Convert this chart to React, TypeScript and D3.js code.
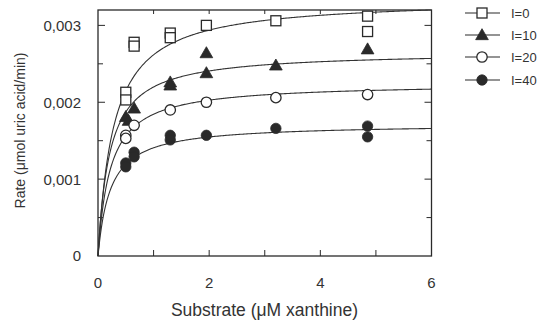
import React from "react";
import * as d3 from "d3";

const seriesNames = ["I=0", "I=10", "I=20", "I=40"];
const markerTypes = ["square", "triangle", "circleOpen", "circleFilled"];

const xI0 = [0.5, 0.5, 0.65, 0.65, 1.3, 1.3, 1.95, 3.2, 4.85, 4.85];
const yI0 = [0.00213, 0.00203, 0.00278, 0.00273, 0.0029, 0.00284, 0.003, 0.00306, 0.00312, 0.00292];
const xI10 = [0.5, 0.55, 0.65, 1.3, 1.3, 1.95, 1.95, 3.2, 4.85];
const yI10 = [0.00181, 0.00176, 0.00192, 0.00226, 0.00222, 0.00264, 0.00238, 0.00248, 0.00269];
const xI20 = [0.5, 0.5, 0.65, 1.3, 1.95, 3.2, 4.85];
const yI20 = [0.00157, 0.00153, 0.0017, 0.0019, 0.002, 0.00206, 0.0021];
const xI40 = [0.5, 0.5, 0.65, 0.65, 1.3, 1.3, 1.95, 3.2, 4.85, 4.85];
const yI40 = [0.00121, 0.00116, 0.00135, 0.00129, 0.00157, 0.00151, 0.00157, 0.00166, 0.00169, 0.00155];

// Michaelis-Menten fit parameters (Vmax, Km) for each curve
const vmax = [0.00335, 0.00266, 0.00225, 0.00172];
const km = [0.28, 0.21, 0.22, 0.222];

const xTicks = [0, 2, 4, 6];
const yTicks = [0, 0.001, 0.002, 0.003];
const yTickLabels = ["0", "0,001", "0,002", "0,003"];

const xs = [xI0, xI10, xI20, xI40];
const ys = [yI0, yI10, yI20, yI40];

const W = 542, H = 324;
const x = d3.scaleLinear().domain([0, 6]).range([98, 431.5]);
const y = d3.scaleLinear().domain([0, 0.0032]).range([256, 10]);
const ink = "#2a2a2a";
const font = "'Liberation Sans', Arial, sans-serif";

function Marker({ type, cx, cy }: { type: string; cx: number; cy: number }) {
  if (type === "square")
    return <rect x={cx - 5} y={cy - 5} width={10} height={10} fill="#fff" stroke={ink} strokeWidth={1.3} />;
  if (type === "triangle") {
    const p = d3.symbol(d3.symbolTriangle, 70)();
    return <path d={p || ""} transform={`translate(${cx},${cy + 1})`} fill={ink} stroke={ink} strokeWidth={0.8} />;
  }
  if (type === "circleOpen")
    return <circle cx={cx} cy={cy} r={5.2} fill="#fff" stroke={ink} strokeWidth={1.3} />;
  return <circle cx={cx} cy={cy} r={5.2} fill={ink} stroke={ink} strokeWidth={0.8} />;
}

export default function App() {
  const sample = d3.range(0, 6.0001, 0.02);
  const curves = vmax.map((V, i) => {
    const line = d3
      .line<number>()
      .x((s) => x(s))
      .y((s) => y((V * s) / (km[i] + s)))
      .curve(d3.curveLinear);
    return line(sample) || "";
  });
  const minorY = d3.range(0.0005, 0.0032, 0.0005);
  const minorX = [1, 2, 3, 4, 5];
  const legendY = [13, 35, 57, 80];

  return (
    <svg width={W} height={H} style={{ position: "absolute", left: 0, top: 0, background: "#fff" }}>
      <rect x={0} y={0} width={W} height={H} fill="#fff" />
      {/* frame */}
      <rect x={x(0)} y={y(0.0032)} width={x(6) - x(0)} height={y(0) - y(0.0032)} fill="none" stroke={ink} strokeWidth={1.3} />
      {/* ticks */}
      {minorY.map((t, i) => {
        const major = Math.abs((t * 1000) % 1) < 1e-6 || Math.abs((t * 1000) % 1 - 1) < 1e-6;
        const len = major ? 7 : 5;
        return (
          <g key={"yt" + i}>
            <line x1={x(0)} x2={x(0) + len} y1={y(t)} y2={y(t)} stroke={ink} strokeWidth={1} />
            <line x1={x(6)} x2={x(6) - len} y1={y(t)} y2={y(t)} stroke={ink} strokeWidth={1} />
          </g>
        );
      })}
      {minorX.map((t, i) => (
        <g key={"xt" + i}>
          <line x1={x(t)} x2={x(t)} y1={y(0)} y2={y(0) - 6} stroke={ink} strokeWidth={1} />
          <line x1={x(t)} x2={x(t)} y1={y(0.0032)} y2={y(0.0032) + 4} stroke={ink} strokeWidth={1} />
        </g>
      ))}
      {/* tick labels */}
      {yTicks.map((t, i) => (
        <text key={"yl" + i} x={81} y={y(t)} dy="0.36em" textAnchor="end" fontFamily={font} fontSize={15} fill="#333">
          {yTickLabels[i]}
        </text>
      ))}
      {xTicks.map((t, i) => (
        <text key={"xl" + i} x={x(t)} y={288} textAnchor="middle" fontFamily={font} fontSize={15} fill="#333">
          {t}
        </text>
      ))}
      {/* axis titles */}
      <text x={264.5} y={316} textAnchor="middle" fontFamily={font} fontSize={17.5} fill="#333">
        Substrate (μM xanthine)
      </text>
      <text transform="translate(25,130.5) rotate(-90)" textAnchor="middle" fontFamily={font} fontSize={14} fill="#333">
        Rate (μmol uric acid/min)
      </text>
      {/* curves */}
      {curves.map((d, i) => (
        <path key={"c" + i} d={d} fill="none" stroke="#333" strokeWidth={1.1} />
      ))}
      {/* points */}
      {xs.map((xx, si) =>
        xx.map((v, j) => <Marker key={`p${si}-${j}`} type={markerTypes[si]} cx={x(v)} cy={y(ys[si][j])} />)
      )}
      {/* legend */}
      {seriesNames.map((n, i) => (
        <g key={"lg" + i}>
          <line x1={465} x2={500} y1={legendY[i]} y2={legendY[i]} stroke={ink} strokeWidth={1.1} />
          <Marker type={markerTypes[i]} cx={482} cy={legendY[i]} />
          <text x={511} y={legendY[i]} dy="0.36em" fontFamily={font} fontSize={13} fill="#333">
            {n}
          </text>
        </g>
      ))}
    </svg>
  );
}
